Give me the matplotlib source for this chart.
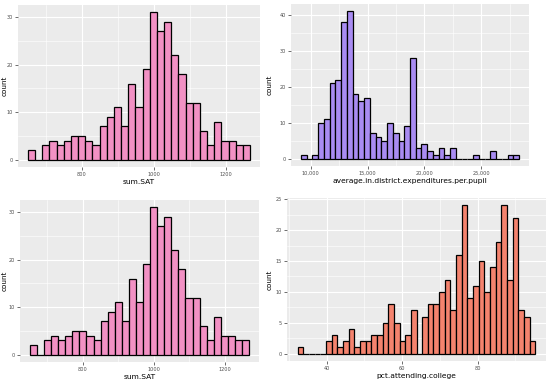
import matplotlib
matplotlib.use("Agg")
import matplotlib.pyplot as plt
import numpy as np

# ---- data ----
sat_counts = [2, 0, 3, 4, 3, 4, 5, 5, 4, 3, 7, 9, 11, 7, 16, 11, 19, 31, 27, 29,
              22, 18, 12, 12, 6, 3, 8, 4, 4, 3, 3]
sat_start = 651
sat_width = 19.9
sat_ticks = [800, 1000, 1200]
sat_ticklabels = ["800", "1000", "1200"]
sat_yticks = [0, 10, 20, 30]

exp_counts = [1, 0, 1, 10, 11, 21, 22, 38, 41, 18, 16, 17, 7, 6, 5, 10, 7, 5, 9, 28,
              3, 4, 2, 1, 3, 1, 3, 0, 0, 0, 1, 0, 0, 2, 0, 0, 1, 1]
exp_start = 9140
exp_width = 505
exp_ticks = [10000, 15000, 20000, 25000]
exp_ticklabels = ["10,000", "15,000", "20,000", "25,000"]
exp_yticks = [0, 10, 20, 30, 40]

pct_counts = [1, 0, 0, 0, 0, 2, 3, 1, 2, 4, 1, 2, 2, 3, 3, 5, 8, 5, 2, 3, 7, 0,
              6, 8, 8, 10, 12, 7, 16, 24, 9, 11, 15, 10, 14, 18, 24, 12, 22, 7, 6, 2]
pct_start = 32.3
pct_width = 1.5
pct_ticks = [40, 60, 80]
pct_ticklabels = ["40", "60", "80"]
pct_yticks = [0, 5, 10, 15, 20, 25]

W, H = 550, 382
fig = plt.figure(figsize=(W / 100, H / 100), dpi=100)
fig.patch.set_facecolor("white")


def panel(rect_px, ylab_x, counts, start, width, color, xticks, xticklabels, yticks, xlabel):
    l, t, r, b = rect_px
    ax = fig.add_axes([l / W, 1 - b / H, (r - l) / W, (b - t) / H])
    counts = np.asarray(counts)
    n = len(counts)
    edges = start + width * np.arange(n + 1)
    ax.set_facecolor("#EBEBEB")
    ax.bar(edges[:-1], counts, width=width, align="edge", color=color,
           edgecolor="black", linewidth=0.9, zorder=3)
    lo, hi = edges[0], edges[-1]
    pad = (hi - lo) * 0.045
    ax.set_xlim(lo - pad, hi + pad)
    ymax = counts.max()
    ax.set_ylim(-ymax * 0.05, ymax * 1.05)
    ax.set_xticks(xticks)
    ax.set_xticklabels(xticklabels)
    ax.set_yticks(yticks)
    xt = np.array(xticks, dtype=float)
    step = xt[1] - xt[0]
    minors_x = np.arange(xt[0] - step * 2.5, xt[-1] + step * 2.5, step)
    minors_x = minors_x[(minors_x > lo - pad) & (minors_x < hi + pad)]
    ax.set_xticks(minors_x, minor=True)
    yt = np.array(yticks, dtype=float)
    ystep = yt[1] - yt[0]
    minors_y = np.arange(yt[0] + ystep / 2, ymax * 1.05, ystep)
    ax.set_yticks(minors_y, minor=True)
    ax.grid(True, which="major", color="white", linewidth=0.8, zorder=0)
    ax.grid(True, which="minor", color="white", linewidth=0.4, zorder=0)
    ax.set_axisbelow(True)
    for s in ax.spines.values():
        s.set_visible(False)
    ax.tick_params(axis="both", which="major", length=2, width=0.5, color="#333333",
                   labelsize=3.6, labelcolor="#4D4D4D", pad=1.5)
    ax.tick_params(axis="both", which="minor", length=0)
    ax.set_xlabel(xlabel, fontsize=5.4, color="black", labelpad=1.5)
    fig.text(ylab_x / W, 1 - ((t + b) / 2) / H, "count", rotation=90,
             ha="center", va="center", fontsize=5.2, color="black")
    return ax


panel((18, 5, 260, 167), 5, sat_counts, sat_start, sat_width, "#F291C4",
      sat_ticks, sat_ticklabels, sat_yticks, "sum.SAT")
panel((291, 4, 529, 166), 270, exp_counts, exp_start, exp_width, "#A98CF2",
      exp_ticks, exp_ticklabels, exp_yticks, "average.in.district.expenditures.per.pupil")
panel((20, 200, 259, 362), 5, sat_counts, sat_start, sat_width, "#F291C4",
      sat_ticks, sat_ticklabels, sat_yticks, "sum.SAT")
panel((287, 198, 546, 361), 270, pct_counts, pct_start, pct_width, "#F4836E",
      pct_ticks, pct_ticklabels, pct_yticks, "pct.attending.college")

fig.savefig("out.png", dpi=100)
